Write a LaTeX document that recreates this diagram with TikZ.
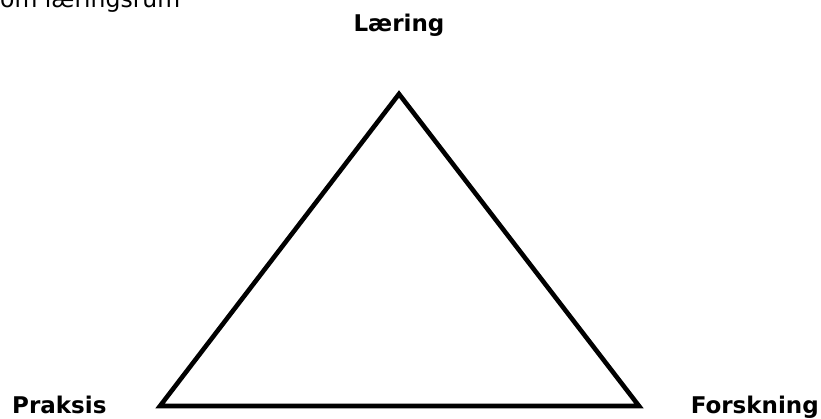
\documentclass[tikz,border=0pt]{standalone}
\usepackage{fontspec}
\setmainfont{DejaVu Sans}
\begin{document}
\begin{tikzpicture}[x=1pt,y=-1pt,
  lbl/.style={font=\fontsize{23}{27}\selectfont\bfseries, inner sep=0pt, anchor=base},
  tri/.style={draw=black, line width=4.6pt, line join=miter}]
\useasboundingbox (0,0) rectangle (821,419);
\clip (0,0) rectangle (821,419);
\node[inner sep=0pt, anchor=base west, font=\fontsize{23.5}{28}\selectfont] (title) at (0,8) {om læringsrum};
\coordinate (top) at (399,94);
\coordinate (bl) at (160,406);
\coordinate (br) at (639,406);
\draw[tri] (top) -- (bl) -- (br) -- cycle;
\node[lbl] (laering) at (399,32) {Læring};
\node[lbl, anchor=base west] (praksis) at (12,413) {Praksis};
\node[lbl, anchor=base east] (forskning) at (819,413) {Forskning};
\end{tikzpicture}
\end{document}
